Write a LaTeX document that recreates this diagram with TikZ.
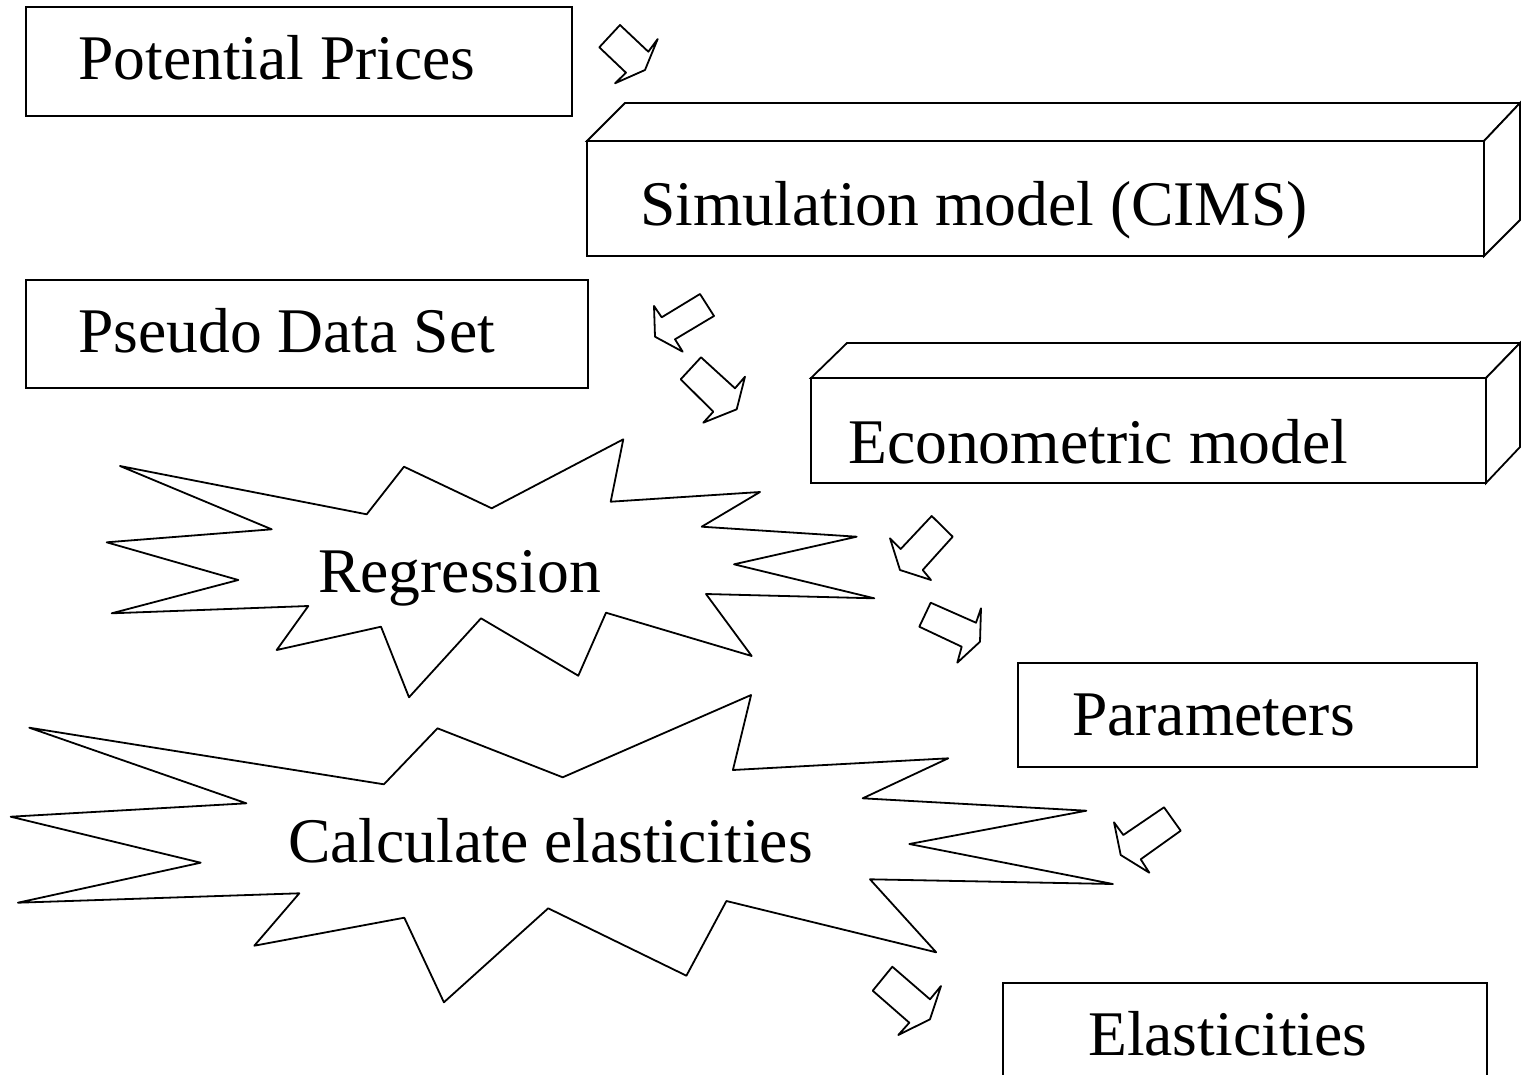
\documentclass[tikz,border=0pt]{standalone}
\usepackage{fontspec}
\setmainfont{Liberation Serif}
\begin{document}
\begin{tikzpicture}[x=1pt,y=-1pt,
  boxline/.style={draw=black, line width=1.8pt, line join=miter, fill=white},
  burst/.style={draw=black, line width=1.8pt, line join=round, fill=white},
  blockarrow/.style={draw=black, line width=1.8pt, line join=round, fill=white},
  labeltext/.style={anchor=base west, inner sep=0pt, font=\fontsize{63.6pt}{70pt}\selectfont}]
\useasboundingbox (0,0) rectangle (1521,1074);
\fill[white] (0,0) rectangle (1521,1074);

% Potential Prices box
\draw[boxline] (26,7) rectangle (572,116);
\node[labeltext] (pp) at (78,79) {Potential Prices};

% Simulation model 3D box
\draw[boxline] (587,141) -- (625,103) -- (1520,103) -- (1484,141) -- cycle;
\draw[boxline] (1484,141) -- (1520,103) -- (1520,220) -- (1484,256) -- cycle;
\draw[boxline] (587,141) rectangle (1484,256);
\node[labeltext] (sim) at (640,225) {Simulation model (CIMS)};

% Pseudo Data Set box
\draw[boxline] (26,280) rectangle (588,388);
\node[labeltext] (pds) at (78,352) {Pseudo Data Set};

% Econometric model 3D box
\draw[boxline] (811,378) -- (847,343) -- (1520,343) -- (1486,378) -- cycle;
\draw[boxline] (1486,378) -- (1520,343) -- (1520,447) -- (1486,483) -- cycle;
\draw[boxline] (811,378) rectangle (1486,483);
\node[labeltext] (eco) at (848,463) {Econometric model};

% Regression starburst
\draw[burst] (120,466) -- (366.7,514.3) -- (404,466.7) -- (491.7,508.3) -- (623.3,439.3)
  -- (610.7,501.7) -- (760,492) -- (701.7,526.7) -- (856.7,536.7) -- (734,564.3)
  -- (874.3,598.3) -- (706,594) -- (751.7,656) -- (606,612.7) -- (578.3,675.7)
  -- (481,618.3) -- (409,697.3) -- (381,626.7) -- (276.7,650) -- (308.3,606)
  -- (111.7,613.3) -- (238.3,580) -- (106.7,542.3) -- (271.7,529.3) -- cycle;
\node[labeltext] (reg) at (318,592) {Regression};

% Parameters box
\draw[boxline] (1018,663) rectangle (1477,767);
\node[labeltext] (par) at (1072,735) {Parameters};

% Calculate elasticities starburst
\draw[burst] (29.3,727.7) -- (383.9,784.3) -- (437.5,728.3) -- (562.7,777.3) -- (751.1,695)
  -- (732.9,770) -- (948.2,758.3) -- (862.7,798.3) -- (1086.4,810.7) -- (909.3,844)
  -- (1112.9,884) -- (870,879.3) -- (936.2,952.3) -- (726.4,901) -- (686.4,975.7)
  -- (548.2,908.3) -- (443.9,1002.3) -- (404.3,917.7) -- (254.3,945.7) -- (299.3,893.3)
  -- (17.9,902.7) -- (200.7,862.7) -- (10.7,816.7) -- (246.4,803.3) -- cycle;
\node[labeltext] (calc) at (288,862) {Calculate elasticities};

% Elasticities box (cut by the lower edge)
\draw[boxline, fill=none] (1003,1080) -- (1003,983) -- (1487,983) -- (1487,1080);
\node[labeltext] (ela) at (1088,1055) {Elasticities};

% Block arrows
\draw[blockarrow] (620,25) -- (648.3,51.7) -- (657.7,39) -- (645,70) -- (615,83.3) -- (626,72.7) -- (599.3,47.3) -- cycle;
\draw[blockarrow] (700,294) -- (714,316) -- (675,339.3) -- (682.7,351.7) -- (655,336.7) -- (654,306) -- (661.7,317.3) -- cycle;
\draw[blockarrow] (701,357.3) -- (735,388.3) -- (745,376.7) -- (736.7,409.3) -- (703.3,422.7) -- (713.3,411.7) -- (680.7,379.3) -- cycle;
\draw[blockarrow] (931.7,516) -- (952.7,536.7) -- (922.7,570) -- (931,580) -- (900,570) -- (890,538.3) -- (900.7,549) -- cycle;
\draw[blockarrow] (930.7,602.7) -- (976,622.7) -- (981,608.3) -- (980,641.7) -- (957.3,662.7) -- (961.7,646.7) -- (919.3,626.7) -- cycle;
\draw[blockarrow] (1164,807.3) -- (1180.7,830.7) -- (1140.7,859.3) -- (1149.3,872.7) -- (1120.7,855) -- (1114,822.3) -- (1123.3,835) -- cycle;
\draw[blockarrow] (892.3,966.7) -- (930,999.3) -- (941,986) -- (930,1019.3) -- (898.3,1035) -- (909.3,1022.7) -- (872.7,990.7) -- cycle;
\end{tikzpicture}
\end{document}
